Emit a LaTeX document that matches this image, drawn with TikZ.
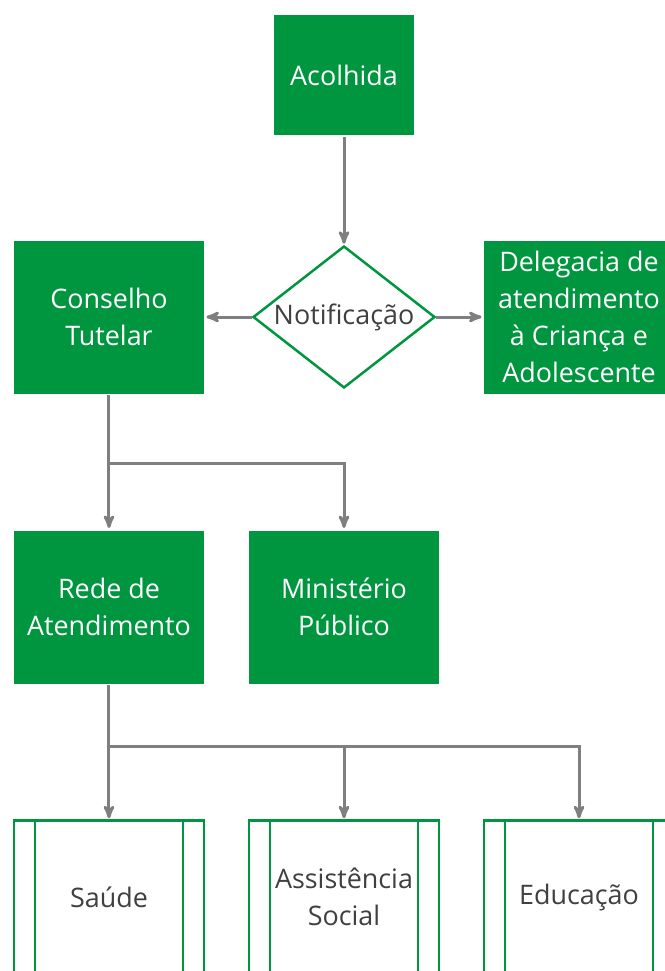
\documentclass[tikz,border=0pt]{standalone}
\usepackage{fontspec}
\setmainfont{Open Sans}
\usetikzlibrary{arrows,positioning,shapes.geometric}
\definecolor{fluxgreen}{RGB}{0,150,64}
\definecolor{fluxgray}{RGB}{127,127,127}
\definecolor{fluxtext}{RGB}{64,64,64}

\begin{document}
\begin{tikzpicture}[->,>=stealth',shorten >=1pt,x=1bp,y=-1bp,node distance=235bp,
                    line width=3bp,font=\fontsize{27}{37}\selectfont]
  \tikzstyle{every node}=[align=center,inner sep=0pt]
  \tikzstyle{block}=[rectangle,fill=fluxgreen,draw=none,text=white,
                     minimum width=190bp,minimum height=153bp]
  \tikzstyle{decision}=[diamond,draw=fluxgreen,fill=white,text=fluxtext,aspect=1.28,
                        line width=2.5bp,minimum width=182bp,minimum height=142bp]
  \tikzstyle{subproc}=[rectangle,draw=fluxgreen,fill=white,text=fluxtext,line width=2.5bp,
                       minimum width=190bp,minimum height=153bp,
                       path picture={\draw[-,fluxgreen]
                         ([xshift=21bp]path picture bounding box.north west) --
                         ([xshift=21bp]path picture bounding box.south west)
                         ([xshift=-21bp]path picture bounding box.north east) --
                         ([xshift=-21bp]path picture bounding box.south east);}]
  \tikzstyle{link}=[draw=fluxgray]

  \useasboundingbox (0,0) rectangle (665,971);

  \node[decision]      (N) at (344,317)       {Notificação};
  \node[block,minimum width=140bp,minimum height=120bp]
                       (A) [above of=N,node distance=242bp] {Acolhida};
  \node[block]         (C) [left of=N]        {Conselho\\Tutelar};
  \node[block]         (D) [right of=N]       {Delegacia de\\atendimento\\à Criança e\\Adolescente};
  \node[block]         (R) [below of=C,node distance=290bp] {Rede de\\Atendimento};
  \node[block]         (M) [right of=R]       {Ministério\\Público};
  \node[subproc]       (S) [below of=R,node distance=290bp] {Saúde};
  \node[subproc]       (AS) [right of=S]      {Assistência\\Social};
  \node[subproc]       (E) [right of=AS]      {Educação};

  \draw[link] (A) -- (N);
  \draw[link] (N) -- (C);
  \draw[link] (N) -- (D);
  \draw[link] (C) -- (R);
  \draw[link] (C.south) -- ++(0,68) -| (M);
  \draw[link] (R) -- (S);
  \draw[link] (R.south) -- ++(0,61) -| (AS);
  \draw[link] (R.south) -- ++(0,61) -| (E);
\end{tikzpicture}
\end{document}
